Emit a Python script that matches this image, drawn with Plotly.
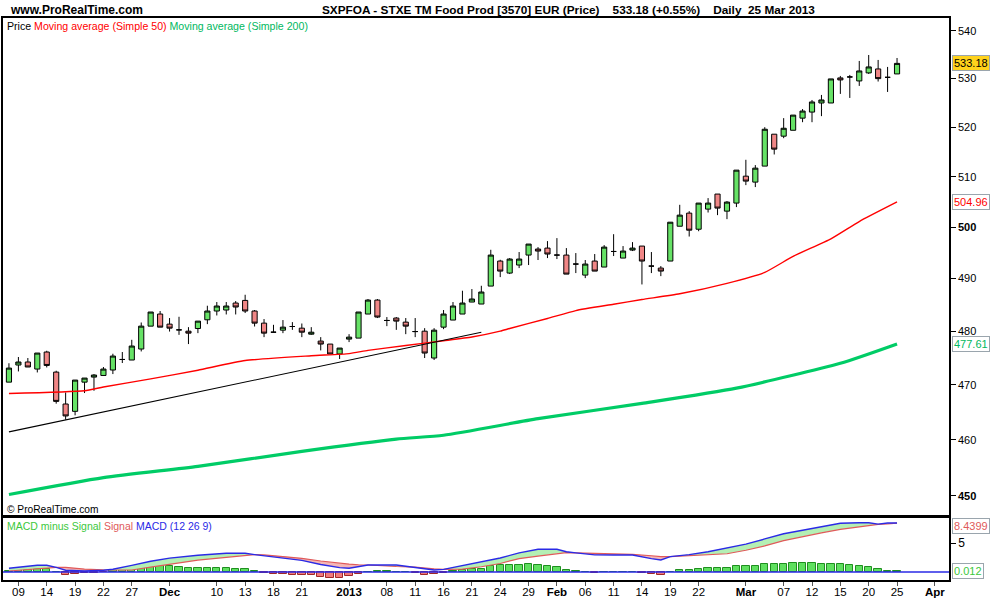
import numpy as np
import plotly.graph_objects as go

# ---------------- data ----------------
month_days = [
    ("2012-11", [8, 9, 12, 13, 14, 15, 16, 19, 20, 21, 22, 23, 26, 27, 28, 29, 30]),
    ("2012-12", [3, 4, 5, 6, 7, 10, 11, 12, 13, 14, 17, 18, 19, 20, 21, 24, 27, 28, 31]),
    ("2013-01", [2, 3, 4, 7, 8, 9, 10, 11, 14, 15, 16, 17, 18, 21, 22, 23, 24, 25, 28, 29, 30, 31]),
    ("2013-02", [1, 4, 5, 6, 7, 8, 11, 12, 13, 14, 15, 18, 19, 20, 21, 22, 25, 26, 27, 28]),
    ("2013-03", [1, 4, 5, 6, 7, 8, 11, 12, 13, 14, 15, 18, 19, 20, 21, 22, 25]),
]
dates = [f"{m}-{d:02d}" for m, days in month_days for d in days]
future_dates = ["2013-03-26", "2013-03-27", "2013-03-28", "2013-04-02"]

open_ = [470.5, 473.67, 474.23, 472.92, 476.09, 472.36, 466.48, 465.14, 470.5, 471.43,
         471.73, 472.74, 474.7, 474.6, 476.65, 480.95, 483.24, 481.33, 480.25, 480.0,
         480.5, 482.15, 483.81, 484.0, 485.33, 485.83, 483.81, 481.52, 479.81, 480.19,
         480.88, 480.57, 479.44, 478.14, 477.58, 475.72, 478.51, 478.7, 483.24, 485.9,
         482.02, 482.48, 481.71, 479.93, 480.0, 474.97, 480.76, 482.1, 483.24, 485.52,
         485.14, 488.57, 493.39, 491.07, 492.62, 494.55, 495.72, 495.91, 494.55, 494.55,
         492.81, 490.68, 493.39, 492.23, 495.25, 493.97, 495.52, 496.3, 492.42, 492.03,
         493.39, 500.18, 502.76, 499.59, 503.55, 506.53, 503.15, 504.74, 510.1, 508.91,
         512.12, 518.57, 518.17, 519.37, 521.85, 523.09, 524.96, 524.96, 530.15, 530.35,
         529.52, 531.19, 532.02, 530.27, 530.98]
high = [474.0, 475.16, 474.97, 475.9, 476.33, 472.61, 468.6, 470.88, 471.25, 471.99,
        473.3, 475.77, 476.09, 478.38, 481.64, 483.62, 483.81, 482.48, 482.72, 480.76,
        481.9, 484.82, 485.52, 485.52, 485.71, 486.91, 484.0, 482.29, 481.2, 482.1,
        481.71, 481.45, 480.76, 478.88, 477.58, 476.83, 479.44, 483.62, 486.1, 486.1,
        482.67, 482.67, 482.48, 482.48, 480.57, 480.57, 484.0, 485.52, 487.68, 488.0,
        488.63, 495.58, 493.64, 493.97, 495.14, 496.69, 496.1, 497.27, 497.85, 495.91,
        494.94, 493.59, 494.75, 496.49, 498.62, 496.3, 497.07, 496.3, 495.14, 492.42,
        501.0, 504.4, 503.15, 504.74, 505.73, 506.53, 505.14, 511.31, 513.39, 512.32,
        520.0, 518.57, 521.85, 522.47, 523.71, 525.58, 526.62, 529.94, 530.56, 530.77,
        533.69, 534.94, 533.9, 532.44, 534.31]
low = [470.5, 472.48, 473.3, 472.29, 473.22, 466.54, 463.62, 464.41, 468.49, 468.91,
       471.73, 471.99, 474.04, 474.6, 476.2, 480.95, 480.76, 479.93, 479.31, 477.58,
       479.63, 481.33, 482.97, 483.16, 483.16, 483.43, 480.88, 478.88, 479.81, 479.63,
       480.25, 478.88, 479.31, 476.39, 475.72, 474.79, 477.95, 478.7, 483.24, 482.48,
       480.95, 480.25, 479.44, 478.88, 474.97, 474.6, 480.38, 482.1, 483.24, 485.5,
       485.14, 488.57, 490.29, 490.88, 492.03, 492.62, 493.59, 493.97, 493.78, 490.87,
       491.07, 490.1, 491.45, 492.23, 494.36, 493.97, 495.33, 488.88, 491.07, 490.48,
       493.39, 500.18, 498.16, 499.2, 502.88, 502.36, 501.57, 503.95, 508.31, 507.92,
       512.12, 514.46, 517.76, 519.37, 521.02, 521.02, 522.26, 524.96, 526.83, 526.0,
       528.49, 530.98, 529.4, 527.24, 530.98]
close = [473.1, 474.23, 473.3, 475.9, 473.59, 466.96, 464.3, 470.88, 471.25, 471.81,
         472.92, 475.34, 474.7, 477.21, 480.95, 483.62, 480.76, 480.57, 480.25, 479.63,
         481.9, 483.81, 484.76, 484.76, 484.57, 483.81, 481.52, 479.63, 479.81, 480.76,
         480.88, 479.81, 479.81, 477.58, 475.72, 476.83, 478.88, 483.62, 485.9, 482.67,
         482.02, 481.9, 480.95, 479.93, 475.9, 480.19, 483.24, 484.76, 485.33, 486.1,
         487.43, 494.55, 491.45, 493.78, 493.78, 496.69, 495.33, 494.75, 494.55, 490.87,
         492.81, 492.81, 491.45, 496.1, 495.25, 495.33, 495.91, 493.39, 492.42, 491.45,
         500.97, 502.36, 499.4, 504.74, 504.74, 503.75, 504.94, 511.31, 509.11, 511.71,
         519.58, 515.54, 519.78, 522.47, 523.3, 525.17, 525.58, 529.94, 529.73, 530.35,
         531.6, 532.44, 530.0, 530.27, 533.18]

ma50_dates = ["2012-11-08", "2012-11-20", "2012-11-22", "2012-11-29", "2012-12-06", "2012-12-13",
              "2012-12-24", "2013-01-02", "2013-01-04", "2013-01-10", "2013-01-16", "2013-01-21",
              "2013-01-24", "2013-01-25", "2013-01-31", "2013-02-05", "2013-02-11", "2013-02-14",
              "2013-02-20", "2013-02-27", "2013-03-05", "2013-03-08", "2013-03-14", "2013-03-19",
              "2013-03-25"]
ma50_values = [468.4, 468.9, 469.6, 471.1, 472.7, 474.5, 475.4, 475.8, 476.4, 477.3, 478.2, 478.9,
               480.0, 480.5, 482.4, 483.9, 485.1, 486.0, 487.1, 489.1, 491.2, 494.3, 497.7, 501.1,
               504.96]

ma200_dates = ["2012-11-08", "2012-11-22", "2012-12-06", "2012-12-21", "2013-01-09", "2013-01-16",
               "2013-01-30", "2013-02-14", "2013-02-28", "2013-03-15", "2013-03-25"]
ma200_values = [450.2, 453.2, 455.2, 457.9, 460.1, 460.8, 463.8, 466.6, 469.4, 474.0, 477.61]

trend_dates = ["2012-11-08", "2013-01-22"]
trend_values = [461.4, 479.8]

macd_dates = ["2012-11-08", "2012-11-13", "2012-11-14", "2012-11-15", "2012-11-16", "2012-11-20",
              "2012-11-22", "2012-11-23", "2012-11-27", "2012-11-29", "2012-12-03", "2012-12-06",
              "2012-12-11", "2012-12-13", "2012-12-14", "2012-12-17", "2012-12-19", "2012-12-21",
              "2012-12-27", "2012-12-31", "2013-01-02", "2013-01-03", "2013-01-04", "2013-01-09",
              "2013-01-10", "2013-01-11", "2013-01-15", "2013-01-16", "2013-01-18", "2013-01-22",
              "2013-01-24", "2013-01-28", "2013-01-30", "2013-02-01", "2013-02-04", "2013-02-05",
              "2013-02-07", "2013-02-11", "2013-02-13", "2013-02-15", "2013-02-18", "2013-02-19",
              "2013-02-21", "2013-02-25", "2013-02-27", "2013-03-01", "2013-03-05", "2013-03-07",
              "2013-03-11", "2013-03-13", "2013-03-15", "2013-03-19", "2013-03-20", "2013-03-21",
              "2013-03-22", "2013-03-25"]
macd_values = [0.65, 1.16, 1.16, 0.8, 0.3, 0.17, 0.3, 0.47, 1.15, 1.85, 2.4, 2.9,
               3.22, 3.22, 3.0, 2.8, 2.4, 2.0, 1.3, 0.75, 0.64, 0.95, 1.21, 1.21,
               1.0, 0.85, 0.34, 0.46, 1.1, 1.67, 2.41, 3.3, 3.91, 3.91, 3.5, 3.3,
               2.95, 2.93, 2.93, 2.3, 2.07, 2.65, 3.0, 3.5, 4.2, 4.8, 5.7, 6.6,
               7.2, 7.75, 8.4, 8.5, 8.5, 8.25, 8.45, 8.452]
signal_values = [0.17, 0.6, 0.72, 0.8, 0.8, 0.5, 0.35, 0.34, 0.34, 0.85, 1.3, 2.05,
                 2.53, 2.9, 3.0, 2.95, 2.7, 2.35, 1.9, 1.5, 1.35, 1.25, 1.21, 0.95,
                 0.9, 0.85, 0.55, 0.46, 0.5, 0.9, 1.47, 2.3, 2.75, 3.2, 3.33, 3.3,
                 3.22, 3.12, 3.05, 2.8, 2.64, 2.65, 2.8, 3.0, 3.15, 3.75, 4.5, 5.4,
                 6.1, 6.75, 7.35, 7.81, 8.0, 8.2, 8.3, 8.4399]

hist_values = [0.17, 0.34, 0.34, 0.52, 0.46, 0.05, -0.57, -0.34, -0.23, -0.23,
               -0.05, 0.34, 0.34, 0.46, 0.92, 1.21, 1.21, 1.03, 0.8, 0.63,
               0.63, 0.63, 0.63, 0.63, 0.46, 0.46, 0.17, -0.23, -0.4, -0.4,
               -0.57, -0.57, -0.57, -0.8, -0.98, -0.98, -0.69, -0.34, 0.0, 0.17,
               0.17, 0.0, 0.0, -0.23, -0.57, -0.4, -0.23, 0.17, 0.34, 0.46,
               0.46, 1.03, 1.21, 1.21, 1.21, 1.38, 1.21, 1.03, 0.8, 0.34,
               0.17, 0.0, -0.23, 0.0, 0.0, 0.0, 0.0, -0.23, -0.4, -0.57,
               0.0, 0.34, 0.34, 0.52, 0.69, 0.69, 0.69, 1.03, 1.03, 1.03,
               1.38, 1.38, 1.38, 1.61, 1.61, 1.61, 1.38, 1.38, 1.38, 1.21,
               1.03, 0.8, 0.46, 0.17, 0.1]

tick_dates = ["2012-11-09", "2012-11-14", "2012-11-19", "2012-11-22", "2012-11-27", "2012-12-03",
              "2012-12-10", "2012-12-13", "2012-12-18", "2012-12-21", "2013-01-02", "2013-01-08",
              "2013-01-11", "2013-01-16", "2013-01-21", "2013-01-24", "2013-01-29", "2013-02-01",
              "2013-02-06", "2013-02-11", "2013-02-14", "2013-02-19", "2013-02-22", "2013-03-01",
              "2013-03-07", "2013-03-12", "2013-03-15", "2013-03-20", "2013-03-25", "2013-04-02"]
tick_text = ["09", "14", "19", "22", "27", "<b>Dec</b>", "10", "13", "18", "21", "<b>2013</b>",
             "08", "11", "16", "21", "24", "29", "<b>Feb</b>", "06", "11", "14", "19", "22",
             "<b>Mar</b>", "07", "12", "15", "20", "25", "<b>Apr</b>"]

price_ticks = [450, 460, 470, 480, 490, 500, 510, 520, 530, 540]
price_tick_text = ["<b>450</b>", "460", "470", "480", "490", "<b>500</b>", "510", "520", "530", "540"]

last_price = 533.18
last_ma50 = 504.96
last_ma200 = 477.61
last_signal = 8.4399
last_hist = 0.012

# ---------------- helpers ----------------
axis_dates = dates + future_dates
pos = {d: i for i, d in enumerate(axis_dates)}
X = [pos[d] for d in dates]

L, R, T, B = 3, 51, 18, 20
W, H = 1000, 600
PW, PH = W - L - R, H - T - B


def px(x):
    return (x - L) / PW


def py(y):
    return (H - B - y) / PH


FONT = "Liberation Sans, Arial, sans-serif"

fig = go.Figure()

# price candles
fig.add_trace(go.Candlestick(
    x=X, open=open_, high=high, low=low, close=close,
    increasing=dict(line=dict(color="black", width=1), fillcolor="#66e266"),
    decreasing=dict(line=dict(color="black", width=1), fillcolor="#f08686"),
    whiskerwidth=0, xaxis="x", yaxis="y", showlegend=False, hoverinfo="skip"))

fig.add_trace(go.Scatter(x=[pos[d] for d in ma50_dates], y=ma50_values, mode="lines",
                         line=dict(color="#ff0000", width=1.4, shape="spline", smoothing=0.5),
                         xaxis="x", yaxis="y", showlegend=False, hoverinfo="skip"))
fig.add_trace(go.Scatter(x=[pos[d] for d in ma200_dates], y=ma200_values, mode="lines",
                         line=dict(color="#00cc66", width=3.2, shape="spline", smoothing=0.6),
                         xaxis="x", yaxis="y", showlegend=False, hoverinfo="skip"))
fig.add_trace(go.Scatter(x=[pos[d] for d in trend_dates], y=trend_values, mode="lines",
                         line=dict(color="black", width=1.1), xaxis="x", yaxis="y",
                         showlegend=False, hoverinfo="skip"))

# MACD fills (green where MACD above signal, pink where below)
mx = [pos[d] for d in macd_dates]
diff = [m - s for m, s in zip(macd_values, signal_values)]
runs = []
start = 0
cur_sign = None
for k in range(len(mx) - 1):
    sign_k = 1 if (diff[k] + diff[k + 1]) >= 0 else -1
    if cur_sign is None:
        cur_sign = sign_k
    if sign_k != cur_sign:
        runs.append((start, k, cur_sign))
        start = k
        cur_sign = sign_k
runs.append((start, len(mx) - 1, cur_sign))
for a, b, sg in runs:
    xs = mx[a:b + 1] + mx[a:b + 1][::-1]
    ys = macd_values[a:b + 1] + signal_values[a:b + 1][::-1]
    fig.add_trace(go.Scatter(x=xs, y=ys, mode="none", fill="toself",
                             fillcolor="#b4efb4" if sg > 0 else "#f4b6b6",
                             xaxis="x2", yaxis="y2", showlegend=False, hoverinfo="skip"))

# histogram
fig.add_trace(go.Bar(x=X, y=hist_values, width=0.78,
                     marker=dict(color=["#5fe05f" if v >= 0 else "#f07a7a" for v in hist_values],
                                 line=dict(color=["#1f8f1f" if v >= 0 else "#a02828" for v in hist_values],
                                           width=1)),
                     xaxis="x2", yaxis="y2", showlegend=False, hoverinfo="skip"))

fig.add_trace(go.Scatter(x=mx, y=signal_values, mode="lines",
                         line=dict(color="#e05a5a", width=1.2), xaxis="x2", yaxis="y2",
                         showlegend=False, hoverinfo="skip"))
fig.add_trace(go.Scatter(x=mx, y=macd_values, mode="lines",
                         line=dict(color="#2a2ae6", width=1.4), xaxis="x2", yaxis="y2",
                         showlegend=False, hoverinfo="skip"))

xr = [-0.63, 99.5]
y_bot_price = py(515)
y_top_macd = py(518)

fig.update_layout(
    width=W, height=H, margin=dict(l=L, r=R, t=T, b=B, autoexpand=False),
    paper_bgcolor="white", plot_bgcolor="white",
    font=dict(family=FONT, size=11, color="black"),
    showlegend=False, bargap=0, boxgap=0.22,
    xaxis=dict(domain=[0, 1], anchor="y", range=xr, showticklabels=False, ticks="",
               showgrid=False, zeroline=False, showline=True, mirror=True, automargin=False,
               linecolor="black", linewidth=1.5, rangeslider=dict(visible=False)),
    yaxis=dict(domain=[y_bot_price, 1], anchor="x", type="log",
               range=[np.log10(446.6), np.log10(542.76)], side="right", automargin=False,
               tickvals=price_ticks, ticktext=price_tick_text, ticks="outside", ticklen=5,
               tickcolor="black", showgrid=False, zeroline=False, showline=True, mirror=True,
               linecolor="black", linewidth=1.5, tickfont=dict(size=11)),
    xaxis2=dict(domain=[0, 1], anchor="y2", range=xr, automargin=False,
                tickvals=[pos[d] for d in tick_dates], ticktext=tick_text,
                ticks="outside", ticklen=4, tickcolor="#555555", showgrid=False,
                zeroline=False, showline=True, mirror=True, linecolor="black", linewidth=1.5,
                tickfont=dict(size=11.5)),
    yaxis2=dict(domain=[0, y_top_macd], anchor="x2", range=[-1.38, 9.31], side="right",
                automargin=False,
                tickvals=[5], ticktext=["5"], ticks="outside", ticklen=5, tickcolor="black",
                showgrid=False, zeroline=False, showline=True, mirror=True,
                linecolor="black", linewidth=1.5, tickfont=dict(size=12)),
)
try:
    fig.update_layout(xaxis2_ticklabelstandoff=-4)
except Exception:
    fig.update_layout(xaxis2_ticklen=2, xaxis2_tickfont_size=11)

fig.add_shape(type="line", xref="x2 domain", x0=0, x1=1, yref="y2", y0=0, y1=0,
              line=dict(color="#2a2ae6", width=1.5), layer="above")

ann = []
ann.append(dict(text="<b>www.ProRealTime.com</b>", x=px(8), y=py(10), xref="paper", yref="paper",
                xanchor="left", yanchor="middle", showarrow=False, font=dict(size=12)))
ann.append(dict(text="<b>SXPFOA - STXE TM Food Prod [3570] EUR (Price)&nbsp;&nbsp;&nbsp;&nbsp;533.18 (+0.55%)"
                     "&nbsp;&nbsp;&nbsp;&nbsp;Daily&nbsp;&nbsp;25 Mar 2013</b>",
                x=px(320), y=py(10), xref="paper", yref="paper", xanchor="left", yanchor="middle",
                showarrow=False, font=dict(size=11.8)))
ann.append(dict(text="Price <span style='color:#ff0000'>Moving average (Simple 50)</span> "
                     "<span style='color:#00b860'>Moving average (Simple 200)</span>",
                x=px(5), y=py(26), xref="paper", yref="paper", xanchor="left", yanchor="middle",
                showarrow=False, font=dict(size=10.6)))
ann.append(dict(text="© ProRealTime.com", x=px(5), y=py(509), xref="paper", yref="paper",
                xanchor="left", yanchor="middle", showarrow=False, font=dict(size=10.2)))
ann.append(dict(text="<span style='color:#3cc83c'>MACD minus Signal</span> "
                     "<span style='color:#e05a5a'>Signal</span> "
                     "<span style='color:#2a2ae6'>MACD (12 26 9)</span>",
                x=px(5), y=py(526), xref="paper", yref="paper", xanchor="left", yanchor="middle",
                showarrow=False, font=dict(size=10.5)))

box = dict(xref="paper", x=1, xanchor="left", xshift=3, yanchor="middle", showarrow=False,
           bordercolor="#9aa5ad", borderwidth=1, borderpad=1, font=dict(size=11))
ann.append(dict(box, text=f"{last_price:.2f}", yref="y", y=np.log10(last_price),
                bgcolor="#ffd21c", font=dict(size=11, color="black")))
ann.append(dict(box, text=f"{last_ma50:.2f}", yref="y", y=np.log10(last_ma50),
                bgcolor="white", font=dict(size=11, color="#ff0000")))
ann.append(dict(box, text=f"{last_ma200:.2f}", yref="y", y=np.log10(last_ma200),
                bgcolor="white", font=dict(size=11, color="#00b860")))
ann.append(dict(box, text=f"{last_signal:.4f}", yref="y2", y=8.0,
                bgcolor="white", font=dict(size=11, color="#e05a5a")))
ann.append(dict(box, text=f"{last_hist:.3f}", yref="y2", y=0.25,
                bgcolor="white", font=dict(size=11, color="#3cc83c")))
fig.update_layout(annotations=ann)

fig.write_html("out.html", config={"displayModeBar": False},
               post_script="document.body.style.margin='0';document.body.style.overflow='hidden';")
